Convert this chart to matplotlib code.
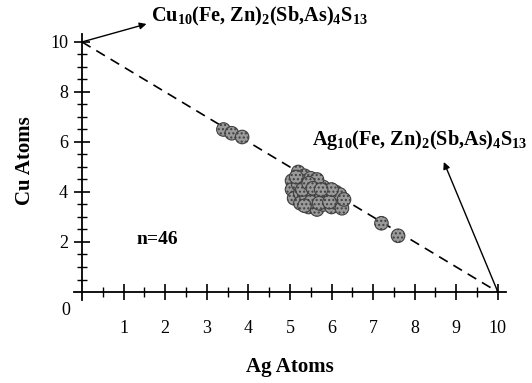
import matplotlib
matplotlib.use("Agg")
import matplotlib.pyplot as plt
import numpy as np

plt.rcParams['font.family'] = ['Liberation Serif', 'DejaVu Serif']
plt.rcParams['mathtext.fontset'] = 'custom'
plt.rcParams['mathtext.rm'] = 'Liberation Serif:bold'
plt.rcParams['mathtext.bf'] = 'Liberation Serif:bold'
plt.rcParams['mathtext.it'] = 'Liberation Serif:bold'

# Data: Ag and Cu atoms per formula unit (n=46)
ag = [3.4, 3.6, 3.85, 7.2, 7.6,
      5.05, 5.05, 5.1, 5.2, 5.2, 5.25, 5.25, 5.35, 5.4, 5.4,
      5.45, 5.5, 5.55, 5.6, 5.6, 5.65, 5.7, 5.75, 5.8, 5.8,
      5.85, 5.9, 5.95, 6.0, 6.05, 6.1, 6.15, 6.2, 6.25, 5.15,
      5.3, 5.5, 5.65, 5.45, 5.7, 5.95, 6.0, 5.35, 5.55, 5.75, 6.3]
cu = [6.5, 6.35, 6.2, 2.75, 2.25,
      4.45, 4.1, 3.75, 4.8, 4.3, 3.95, 3.55, 4.65, 4.2, 3.8,
      3.4, 4.55, 4.0, 3.65, 4.4, 3.3, 4.25, 3.85, 4.2, 3.5,
      4.05, 3.7, 4.0, 3.4, 3.8, 4.0, 3.55, 3.9, 3.35, 4.6,
      4.1, 3.6, 4.5, 4.35, 3.55, 3.6, 4.1, 3.45, 4.15, 4.1, 3.7]
end_ag = [0, 10]
end_cu = [10, 0]
xticks = [1, 2, 3, 4, 5, 6, 7, 8, 9, 10]
yticks = [2, 4, 6, 8, 10]

fig = plt.figure(figsize=(5.32, 3.83), dpi=100)
ax = fig.add_axes([0.1385, 0.218, 0.813, 0.692])
ax.set_xlim(-0.2, 10.2)
ax.set_ylim(-0.3, 10.3)

ax.plot(end_ag, end_cu, color='black', lw=1.2, dashes=(6, 4), zorder=1)
ax.scatter(ag, cu, s=95, facecolor='#9a9a9a', edgecolor='#404040', linewidths=0.8,
           hatch='....', zorder=3)

for s in ['top', 'right']:
    ax.spines[s].set_visible(False)
ax.spines['left'].set_position(('data', 0))
ax.spines['bottom'].set_position(('data', 0))
ax.spines['left'].set_linewidth(1.3)
ax.spines['bottom'].set_linewidth(1.3)

ax.set_xticks(xticks)
ax.set_yticks(yticks)
ax.set_xticks(np.arange(0.5, 10, 1.0), minor=True)
ax.set_yticks(np.arange(0.5, 10, 0.5), minor=True)
ax.tick_params(axis='x', which='major', direction='inout', length=12, width=1.2,
               pad=14, labelsize=13)
ax.tick_params(axis='y', which='major', direction='inout', length=12, width=1.2,
               pad=4, labelsize=13)
ax.tick_params(which='minor', direction='inout', length=7, width=1.0)

ax.text(-0.4, -0.75, '0', fontsize=13, ha='center', va='center')
ax.text(1.3, 2.1, 'n=46', fontsize=14, fontweight='bold', ha='left', va='center')

fig.text(0.047, 0.58, 'Cu Atoms', rotation=90, fontsize=15, fontweight='bold',
         ha='center', va='center')
fig.text(0.545, 0.042, 'Ag Atoms', fontsize=15, fontweight='bold',
         ha='center', va='center')

ax.text(1.65, 10.8, r'Cu$_{10}$(Fe, Zn)$_2$(Sb,As)$_4$S$_{13}$', fontsize=14.6,
        fontweight='bold', ha='left', va='baseline', clip_on=False)
ax.annotate('', xy=(1.55, 10.72), xytext=(0, 10), annotation_clip=False,
            arrowprops=dict(arrowstyle='-|>', color='black', lw=1.0,
                            shrinkA=0, shrinkB=0, mutation_scale=10))
ax.annotate('', xy=(8.70, 5.2), xytext=(10, 0), annotation_clip=False,
            arrowprops=dict(arrowstyle='-|>', color='black', lw=1.0,
                            shrinkA=0, shrinkB=0, mutation_scale=10))
ax.text(5.53, 5.88, r'Ag$_{10}$(Fe, Zn)$_2$(Sb,As)$_4$S$_{13}$', fontsize=14.6,
        fontweight='bold', ha='left', va='baseline')

fig.savefig('out.png', dpi=100)
